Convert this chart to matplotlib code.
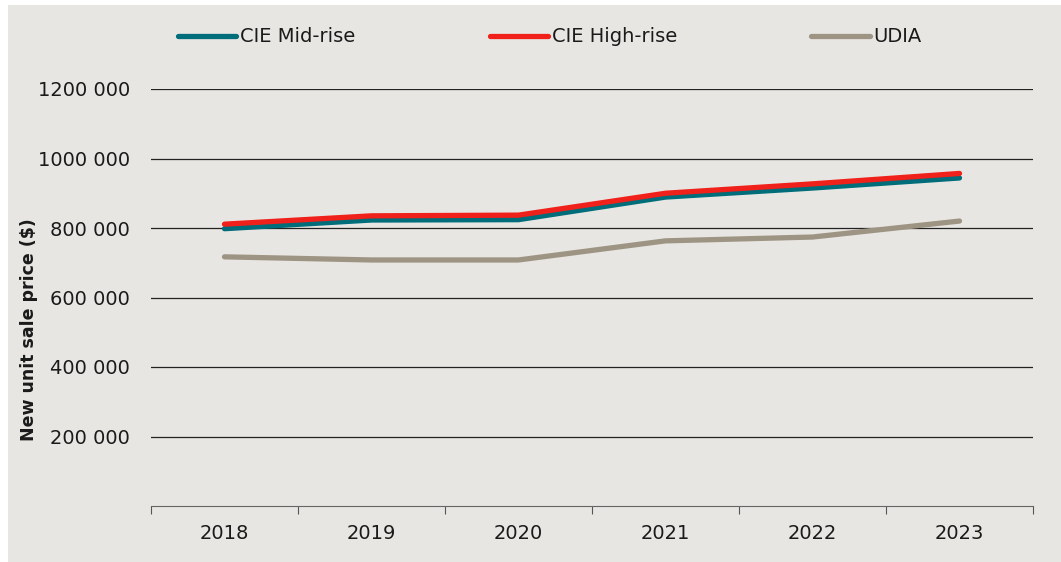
import matplotlib.pyplot as plt
from matplotlib.patches import Rectangle

years = ['2018', '2019', '2020', '2021', '2022', '2023']
mid_rise = [798000, 823000, 824000, 889000, 915000, 944000]
high_rise = [811000, 835000, 837000, 900000, 927000, 957000]
udia = [717000, 708000, 708000, 763000, 774000, 820000]
ytick_vals = [200000, 400000, 600000, 800000, 1000000, 1200000]
ytick_labels = ['200 000', '400 000', '600 000', '800 000', '1000 000', '1200 000']

plt.rcParams['font.family'] = ['DejaVu Sans']

bg = '#E8E6E2'
txt = '#1a1a1a'
fig = plt.figure(figsize=(10.61, 5.62), dpi=100)
fig.patch.set_facecolor('white')
# grey panel behind the chart
fig.patches.append(Rectangle((8/1061, 0), 1 - 8/1061, (562-5)/562,
                             transform=fig.transFigure, facecolor=bg,
                             edgecolor='none', zorder=-10))

ax = fig.add_axes([151/1061, (562-506)/562, 882/1061, (506-89)/562])
ax.set_facecolor(bg)

x = list(range(len(years)))
ax.plot(x, mid_rise, color='#006D7A', lw=3.8, solid_capstyle='round', label='CIE Mid-rise', zorder=3)
ax.plot(x, high_rise, color='#F0201A', lw=3.8, solid_capstyle='round', label='CIE High-rise', zorder=4)
ax.plot(x, udia, color='#9E9484', lw=3.8, solid_capstyle='round', label='UDIA', zorder=3)

ax.set_ylim(0, 1200000)
ax.set_yticks(ytick_vals)
ax.set_yticklabels(ytick_labels)
ax.grid(axis='y', color='#222222', lw=0.9, zorder=1)
ax.tick_params(axis='y', length=0, pad=15, labelsize=14, labelcolor=txt)

ax.set_xlim(-0.5, len(years) - 0.5)
ax.set_xticks([i - 0.5 for i in range(len(years) + 1)])
ax.set_xticklabels([])
ax.set_xticks(x, minor=True)
ax.set_xticklabels(years, minor=True)
ax.tick_params(axis='x', which='major', length=6, color='#555555', direction='out')
ax.tick_params(axis='x', which='minor', length=0, pad=13, labelsize=14, labelcolor=txt)

for s in ['top', 'right', 'left']:
    ax.spines[s].set_visible(False)
ax.spines['bottom'].set_color('#666666')

fig.text(29/1061, (562-330)/562, 'New unit sale price ($)', rotation=90,
         ha='center', va='center', fontsize=12.5, fontweight='bold', color=txt)

leg = fig.legend(loc='center', bbox_to_anchor=(550/1061, (562-37)/562), ncol=3,
                 frameon=False, fontsize=14, handlelength=3.0, handletextpad=0.2,
                 columnspacing=6.9)
for t in leg.get_texts():
    t.set_color(txt)

fig.savefig('out.png', dpi=100, facecolor=fig.get_facecolor())
